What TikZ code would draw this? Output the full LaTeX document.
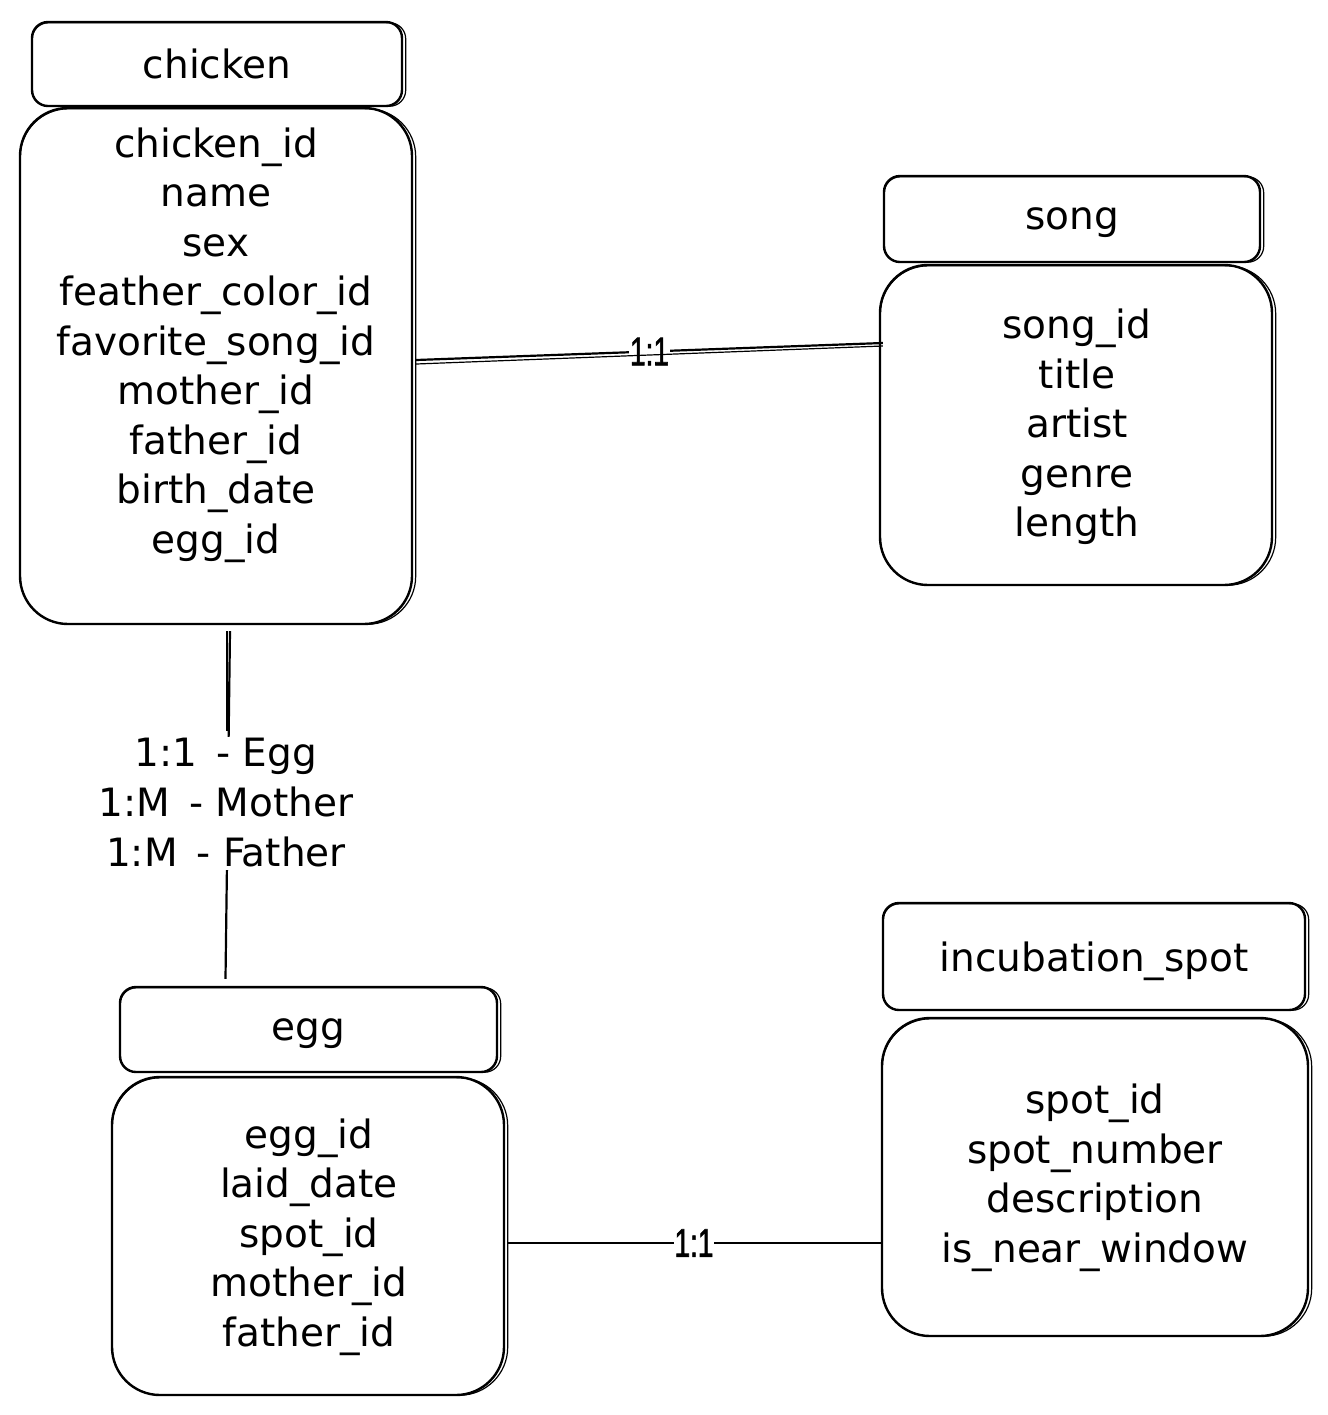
\documentclass[tikz,border=0pt]{standalone}
\usepackage{fontspec}
\setmainfont{DejaVu Sans}
\newfontfamily\relfont[FakeStretch=0.7, FakeBold=1.5]{Liberation Sans}
\usetikzlibrary{calc}

\tikzset{
  outline/.style={draw=black, line width=1.2pt},
  hdr/.style={outline, rounded corners=8pt, font=\fontsize{19.5}{24.75}\selectfont,
    inner sep=0pt, text depth=0pt},
  bodybox/.style={outline, rounded corners=24pt, inner sep=0pt},
  fields/.style={align=center, font=\fontsize{19.5}{24.75}\selectfont, inner sep=0pt},
  echo/.style={draw=black, line width=0.6pt},
  rel/.style={draw=black, line width=1.1pt},
  card/.style={fill=white, font=\relfont\fontsize{20}{22}\selectfont, inner sep=0.5pt},
  rellabel/.style={fill=white, align=center, font=\fontsize{19.5}{25}\selectfont, inner sep=1pt}
}

% second, slightly offset stroke that gives each box a hand-drawn look
\newcommand{\echobox}[2]{%
  \draw[echo, rounded corners=#2] ($(#1.south west)+(1.5,-1)$) rectangle ($(#1.north east)+(2.5,2)$);}

\begin{document}
\begin{tikzpicture}[x=0.5pt, y=-0.5pt]
  \useasboundingbox[fill=white] (0,0) rectangle (1328,1415);

  % chicken table
  \node[hdr, minimum width=185pt, minimum height=42pt] (chickenH) at (217,64) {chicken};
  \node[bodybox, minimum width=196pt, minimum height=258pt] (chickenB) at (216,366) {};
  \node[fields] (chickenF) at (216,345) {chicken\_id\\name\\sex\\feather\_color\_id\\favorite\_song\_id\\mother\_id\\father\_id\\birth\_date\\egg\_id};
  \echobox{chickenH}{8pt}
  \echobox{chickenB}{24pt}

  % song table
  \node[hdr, minimum width=188pt, minimum height=43pt] (songH) at (1072,219) {song};
  \node[bodybox, minimum width=196pt, minimum height=160pt] (songB) at (1076,425) {};
  \node[fields] (songF) at (1077,427) {song\_id\\title\\artist\\genre\\length};
  \echobox{songH}{8pt}
  \echobox{songB}{24pt}

  % egg table
  \node[hdr, minimum width=188.5pt, minimum height=42.5pt] (eggH) at (308.5,1029.5) {egg};
  \node[bodybox, minimum width=196pt, minimum height=159pt] (eggB) at (308,1236) {};
  \node[fields] (eggF) at (309,1237) {egg\_id\\laid\_date\\spot\_id\\mother\_id\\father\_id};
  \echobox{eggH}{8pt}
  \echobox{eggB}{24pt}

  % incubation_spot table
  \node[hdr, minimum width=211pt, minimum height=53.5pt] (incH) at (1094,956.5) {incubation\_spot};
  \node[bodybox, minimum width=213pt, minimum height=159pt] (incB) at (1095,1177) {};
  \node[fields] (incF) at (1095,1178) {spot\_id\\spot\_number\\description\\is\_near\_window};
  \echobox{incH}{8pt}
  \echobox{incB}{24pt}

  % chicken -- song
  \coordinate (cs1) at ($(chickenB.east)+(3,-6)$);
  \coordinate (cs2) at ($(songB.west)+(4,-82)$);
  \draw[rel] (cs1) -- node[card] (csL) {1:1} (cs2);
  \draw[echo] ($(cs1)+(0,4)$) -- ($(cs2)+(0,3)$);

  % chicken -- egg
  \coordinate (ce1) at ($(chickenB.south)+(14,6)$);
  \coordinate (ce2) at ($(eggH.north)+(-83,-7)$);
  \draw[rel] (ce1) -- (ce2);
  \draw[echo] ($(ce1)+(-3,0)$) -- ($(ce1)+(-3,100)$);
  \node[rellabel] (ceL) at (226,803) {1:1 \,- Egg\\1:M \,- Mother\\1:M \,- Father};

  % egg -- incubation_spot
  \coordinate (ei1) at ($(eggB.east)+(2,7)$);
  \coordinate (ei2) at ($(incB.west |- eggB.east)+(0,7)$);
  \draw[rel] (ei1) -- node[card] (eiL) {1:1} (ei2);
\end{tikzpicture}
\end{document}
